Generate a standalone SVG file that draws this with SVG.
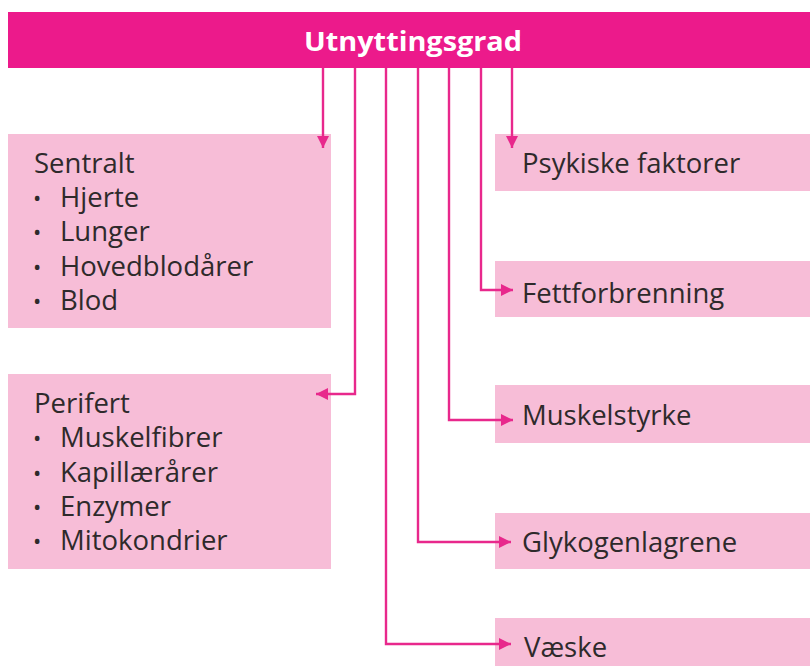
<svg xmlns="http://www.w3.org/2000/svg" width="810" height="666" viewBox="0 0 810 666">
<defs>
<marker id="ah" viewBox="0 0 10 10" refX="10" refY="5" markerWidth="5.5" markerHeight="5" orient="auto" markerUnits="strokeWidth">
<path d="M0,0 L10,5 L0,10 z" fill="#e8288c"/>
</marker>
<style>
.box{fill:#f7bdd7}
.t{font-family:"Open Sans","Liberation Sans",sans-serif;font-size:27.5px;fill:#2e2a2b}
.b{font-family:"Open Sans","Liberation Sans",sans-serif;font-size:22px;fill:#2e2a2b}
.c{fill:none;stroke:#e8288c;stroke-width:2.4;marker-end:url(#ah)}
</style>
</defs>
<rect width="810" height="666" fill="#ffffff"/>
<g id="utnyttingsgrad">
<rect x="8" y="12" width="802" height="56" fill="#ec1a8b"/>
<text x="413" y="51" text-anchor="middle" font-family="'Open Sans','Liberation Sans',sans-serif" font-weight="bold" font-size="26" fill="#ffffff" textLength="218" lengthAdjust="spacingAndGlyphs">Utnyttingsgrad</text>
</g>
<g id="sentralt">
<rect class="box" x="8" y="134" width="323" height="194"/>
<text class="t" x="34" y="173">Sentralt</text>
<text class="b" x="33" y="206">•</text><text class="t" x="60" y="207">Hjerte</text>
<text class="b" x="33" y="240">•</text><text class="t" x="60" y="241">Lunger</text>
<text class="b" x="33" y="275">•</text><text class="t" x="60" y="276">Hovedblodårer</text>
<text class="b" x="33" y="309">•</text><text class="t" x="60" y="310">Blod</text>
</g>
<g id="perifert">
<rect class="box" x="8" y="374" width="323" height="195"/>
<text class="t" x="34" y="413">Perifert</text>
<text class="b" x="33" y="446">•</text><text class="t" x="60" y="447">Muskelfibrer</text>
<text class="b" x="33" y="481">•</text><text class="t" x="60" y="482">Kapillærårer</text>
<text class="b" x="33" y="515">•</text><text class="t" x="60" y="516">Enzymer</text>
<text class="b" x="33" y="549">•</text><text class="t" x="60" y="550">Mitokondrier</text>
</g>
<g id="psykiske">
<rect class="box" x="495" y="134" width="315" height="57"/>
<text class="t" x="522" y="173">Psykiske faktorer</text>
</g>
<g id="fettforbrenning">
<rect class="box" x="495" y="261" width="315" height="56"/>
<text class="t" x="522" y="303">Fettforbrenning</text>
</g>
<g id="muskelstyrke">
<rect class="box" x="495" y="385" width="315" height="58"/>
<text class="t" x="522" y="425">Muskelstyrke</text>
</g>
<g id="glykogenlagrene">
<rect class="box" x="495" y="513" width="315" height="56"/>
<text class="t" x="522" y="552">Glykogenlagrene</text>
</g>
<g id="vaeske">
<rect class="box" x="495" y="618" width="315" height="48"/>
<text class="t" x="524" y="657">Væske</text>
</g>
<g id="connectors">
<path class="c" d="M323,68 V148"/>
<path class="c" d="M512,68 V148"/>
<path class="c" d="M481,68 V290 H513"/>
<path class="c" d="M355,68 V394 H316"/>
<path class="c" d="M449,68 V420 H513"/>
<path class="c" d="M418,68 V542 H511"/>
<path class="c" d="M386,68 V644 H511"/>
</g>
</svg>
